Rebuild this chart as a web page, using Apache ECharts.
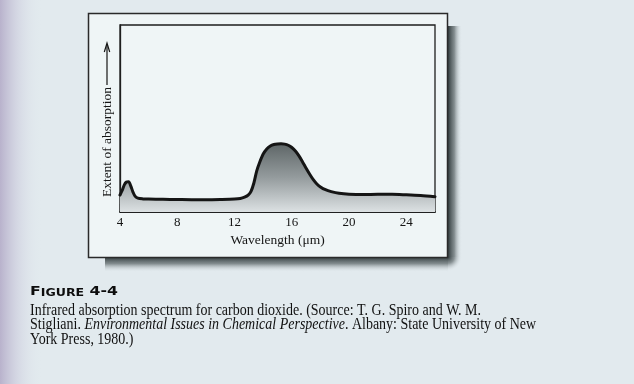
<!DOCTYPE html>
<html><head><meta charset="utf-8">
<script src="https://cdn.jsdelivr.net/npm/echarts@6/dist/echarts.min.js"></script>
<style>html,body{margin:0;padding:0;background:#e2eaee}#c{width:634px;height:384px}</style>
</head><body><div id="c"></div>
<script>
// ---- data ----
const wavelengths = [4.0, 4.15, 4.3, 4.45, 4.6, 4.75, 4.9, 5.05, 5.25, 5.6, 6.0, 7.0, 8.0, 9.0, 10.0, 11.0, 12.0, 12.4, 12.7, 12.95, 13.15, 13.35, 13.55, 13.75, 14.0, 14.25, 14.5, 14.75, 15.0, 15.25, 15.5, 15.75, 16.0, 16.25, 16.5, 16.75, 17.0, 17.25, 17.5, 17.75, 18.0, 18.35, 18.75, 19.3, 20.0, 21.0, 22.0, 23.0, 24.0, 25.0, 26.0];
const absorption  = [9.1, 11.5, 14.5, 16.0, 16.2, 14.0, 10.8, 8.5, 7.4, 7.0, 6.9, 6.8, 6.7, 6.6, 6.6, 6.7, 6.9, 7.2, 7.9, 9.0, 11.0, 15.5, 22.0, 26.5, 31.0, 33.7, 35.3, 36.1, 36.4, 36.5, 36.3, 35.7, 34.5, 32.6, 30.0, 26.8, 23.4, 20.2, 17.3, 15.0, 13.4, 11.9, 10.9, 10.0, 9.5, 9.3, 9.5, 9.5, 9.2, 8.8, 8.2];
const xTicks = [4, 8, 12, 16, 20, 24];
const xTitle = 'Wavelength (\u03bcm)';
const yTitle = 'Extent of absorption';
const figureLabelFirst = 'F';
const figureLabelSmall = 'IGURE';
const figureLabelNum = ' 4-4';
const captionLine1 = 'Infrared absorption spectrum for carbon dioxide. (Source: T. G. Spiro and W. M.';
const captionLine2a = 'Stigliani. ';
const captionLine2b = 'Environmental Issues in Chemical Perspective';
const captionLine2c = '. Albany: State University of New';
const captionLine3 = 'York Press, 1980.)';

// ---- layout helpers ----
const serif = '"Liberation Serif", "DejaVu Serif", serif';
const capFs = 16.5;
const mctx = document.createElement('canvas').getContext('2d');
mctx.font = capFs + 'px "Liberation Serif"';
const capScale = 451 / mctx.measureText(captionLine1).width;
mctx.font = 'bold 12px "DejaVu Sans"';
let figW = mctx.measureText(figureLabelFirst + figureLabelNum).width;
mctx.font = 'bold 9.6px "DejaVu Sans"';
figW += mctx.measureText(figureLabelSmall).width;
const figScale = 88 / figW;

const chart = echarts.init(document.getElementById('c'), null, {renderer: 'canvas'});
const BG = '#e2eaee';

chart.setOption({
  animation: false,
  backgroundColor: BG,
  grid: {left: 120, top: 25, right: 199, bottom: 172, show: true, borderColor: '#1e1e1e', borderWidth: 1.3, backgroundColor: 'transparent'},
  xAxis: {
    type: 'value', min: 4, max: 26, interval: 4,
    name: xTitle, nameLocation: 'middle', nameGap: 21,
    nameTextStyle: {fontFamily: serif, fontSize: 13.5, color: '#151515'},
    axisLine: {show: true, onZero: false, lineStyle: {color: '#111', width: 1.6}},
    axisTick: {show: true, inside: true, length: 8, customValues: xTicks, lineStyle: {color: '#222', width: 1.2}},
    axisLabel: {show: true, margin: 4, customValues: xTicks, fontFamily: serif, fontSize: 13, color: '#151515'},
    splitLine: {show: false}
  },
  yAxis: {
    type: 'value', min: 0, max: 100,
    axisLine: {show: true, lineStyle: {color: '#1e1e1e', width: 1.3}},
    axisTick: {show: false}, axisLabel: {show: false}, splitLine: {show: false}
  },
  series: [{
    type: 'line',
    data: wavelengths.map((w, i) => [w, absorption[i]]),
    smooth: 0.3,
    symbol: 'none',
    silent: true,
    lineStyle: {color: '#151515', width: 3, join: 'round', cap: 'round'},
    areaStyle: {
      origin: 'start',
      color: {type: 'linear', x: 0, y: 0, x2: 0, y2: 1, colorStops: [
        {offset: 0, color: '#5e6667'},
        {offset: 0.5, color: '#959c9e'},
        {offset: 1, color: '#dce1e3'}
      ]},
      opacity: 1
    }
  }],
  graphic: [
    // page gutter shading
    {type: 'rect', z: -20, shape: {x: 0, y: 0, width: 42, height: 384}, style: {fill: {type: 'linear', x: 0, y: 0, x2: 1, y2: 0, colorStops: [
      {offset: 0, color: 'rgba(180,172,200,0.9)'}, {offset: 0.45, color: 'rgba(200,198,218,0.45)'}, {offset: 1, color: 'rgba(226,234,238,0)'}]}}},
    // box shadow
    {type: 'rect', z: -15, shape: {x: 448, y: 26, width: 14, height: 231}, style: {fill: {type: 'linear', x: 0, y: 0, x2: 1, y2: 0, colorStops: [
      {offset: 0, color: 'rgba(40,50,52,0.95)'}, {offset: 0.45, color: 'rgba(80,90,92,0.65)'}, {offset: 1, color: 'rgba(226,234,238,0)'}]}}},
    {type: 'rect', z: -15, shape: {x: 105, y: 257, width: 343, height: 15}, style: {fill: {type: 'linear', x: 0, y: 0, x2: 0, y2: 1, colorStops: [
      {offset: 0, color: 'rgba(40,50,52,0.95)'}, {offset: 0.45, color: 'rgba(80,90,92,0.65)'}, {offset: 1, color: 'rgba(226,234,238,0)'}]}}},
    {type: 'rect', z: -15, shape: {x: 448, y: 257, width: 14, height: 15}, style: {fill: {type: 'radial', x: 0, y: 0, r: 1, colorStops: [
      {offset: 0, color: 'rgba(40,50,52,0.95)'}, {offset: 0.45, color: 'rgba(80,90,92,0.6)'}, {offset: 1, color: 'rgba(226,234,238,0)'}]}}},
    // figure box
    {type: 'rect', z: -10, shape: {x: 88.5, y: 13.5, width: 359, height: 244}, style: {fill: '#eff5f6', stroke: '#2a2a2a', lineWidth: 1.5}},
    // y axis title with arrow
    {type: 'text', x: 107, y: 142, rotation: Math.PI / 2, style: {text: yTitle, x: 0, y: 0, align: 'center', verticalAlign: 'middle', font: '13.5px ' + serif, fill: '#151515'}},
    {type: 'polyline', shape: {points: [[107, 85], [107, 44]]}, style: {stroke: '#151515', lineWidth: 1.2, fill: null}},
    {type: 'polyline', shape: {points: [[104.3, 52], [107, 43], [109.7, 52]]}, style: {stroke: '#151515', lineWidth: 1.2, fill: null}},
    // caption
    {type: 'text', x: 30, y: 298, scaleX: figScale, style: {
      text: '{a|' + figureLabelFirst + '}{b|' + figureLabelSmall + '}{a|' + figureLabelNum + '}',
      x: 0, y: 0, align: 'left', verticalAlign: 'bottom', fill: '#111',
      rich: {a: {fontFamily: 'DejaVu Sans', fontWeight: 'bold', fontSize: 12, lineHeight: 12, verticalAlign: 'bottom', fill: '#0d0d0d'},
             b: {fontFamily: 'DejaVu Sans', fontWeight: 'bold', fontSize: 9.6, lineHeight: 12, verticalAlign: 'bottom', fill: '#0d0d0d'}}
    }},
    {type: 'text', x: 30, y: 319, scaleX: capScale, style: {text: captionLine1, x: 0, y: 0, align: 'left', verticalAlign: 'bottom', font: capFs + 'px ' + serif, fill: '#111'}},
    {type: 'text', x: 30, y: 333.5, scaleX: capScale, style: {
      text: '{n|' + captionLine2a + '}{i|' + captionLine2b + '}{n|' + captionLine2c + '}',
      x: 0, y: 0, align: 'left', verticalAlign: 'bottom',
      rich: {n: {fontFamily: serif, fontSize: capFs, fill: '#111'}, i: {fontFamily: serif, fontStyle: 'italic', fontSize: capFs, fill: '#111'}}
    }},
    {type: 'text', x: 30, y: 348, scaleX: capScale, style: {text: captionLine3, x: 0, y: 0, align: 'left', verticalAlign: 'bottom', font: capFs + 'px ' + serif, fill: '#111'}}
  ]
});
</script>
</body></html>
